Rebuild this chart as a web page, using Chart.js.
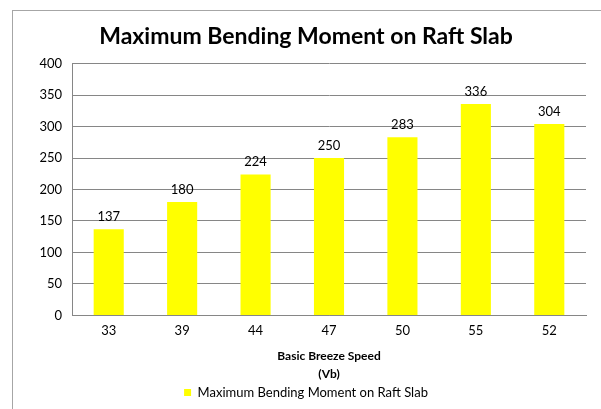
<!DOCTYPE html>
<html>
<head>
<meta charset="utf-8">
<script src="https://cdn.jsdelivr.net/npm/chart.js@4"></script>
<style>
  html, body { margin: 0; padding: 0; background: #ffffff; }
  #wrap { width: 601px; height: 409px; position: relative; }
</style>
</head>
<body>
<div id="wrap"><canvas id="chart" width="601" height="409"></canvas></div>
<script>
// Wind speed categories and resulting bending moments
const speeds = ['33', '39', '44', '47', '50', '55', '52'];
const moments = [137, 180, 224, 250, 283, 336, 304];
const seriesName = 'Maximum Bending Moment on Raft Slab';
const yTicks = [0, 50, 100, 150, 200, 250, 300, 350, 400];

const FONT = 'Lato, "Open Sans", sans-serif';

// Outer frame of the chart area
const framePlugin = {
  id: 'frame',
  beforeDraw(chart) {
    const ctx = chart.ctx;
    ctx.save();
    ctx.fillStyle = '#ffffff';
    ctx.fillRect(0, 0, chart.width, chart.height);
    ctx.strokeStyle = '#a6a6a6';
    ctx.lineWidth = 1;
    ctx.strokeRect(12.5, 10.5, chart.width + 20, chart.height + 20);
    ctx.restore();
  }
};

// Value labels above each bar
const valueLabels = {
  id: 'valueLabels',
  afterDatasetsDraw(chart) {
    const ctx = chart.ctx;
    ctx.save();
    ctx.font = '13px ' + FONT;
    ctx.fillStyle = '#000000';
    ctx.textAlign = 'center';
    ctx.textBaseline = 'bottom';
    chart.getDatasetMeta(0).data.forEach((bar, i) => {
      ctx.fillText(String(chart.data.datasets[0].data[i]), bar.x, bar.y - 6);
    });
    ctx.restore();
  }
};

new Chart(document.getElementById('chart'), {
  type: 'bar',
  data: {
    labels: speeds,
    datasets: [{
      label: seriesName,
      data: moments,
      backgroundColor: '#ffff00',
      borderWidth: 0,
      categoryPercentage: 1.0,
      barPercentage: 0.41
    }]
  },
  options: {
    responsive: false,
    animation: false,
    devicePixelRatio: 1,
    layout: { padding: { left: 26, right: 15, top: 0, bottom: 0 } },
    plugins: {
      title: {
        display: true,
        text: 'Maximum Bending Moment on Raft Slab',
        color: '#000000',
        font: { family: FONT, size: 23, weight: 'bold', lineHeight: 1.2 },
        padding: { top: 23, bottom: 13 }
      },
      legend: {
        display: true,
        position: 'bottom',
        labels: {
          color: '#000000',
          font: { family: FONT, size: 13 },
          boxWidth: 7,
          boxHeight: 7,
          padding: 3
        }
      },
      tooltip: { enabled: false }
    },
    scales: {
      x: {
        grid: { display: false, drawTicks: false },
        border: { display: true, color: '#868686', width: 1 },
        ticks: { color: '#000000', font: { family: FONT, size: 13 }, padding: 8 },
        title: {
          display: true,
          text: ['Basic Breeze Speed', '(Vb)'],
          color: '#000000',
          font: { family: FONT, size: 12, weight: 'bold', lineHeight: 1.5 },
          padding: { top: 0, bottom: 0 }
        }
      },
      y: {
        min: 0,
        max: 400,
        afterBuildTicks(scale) {
          scale.ticks = yTicks.map(v => ({ value: v }));
        },
        afterFit(scale) { scale.width = 46; },
        grid: { color: '#868686', drawTicks: false },
        border: { display: true, color: '#868686', width: 1 },
        ticks: { color: '#000000', font: { family: FONT, size: 13 }, padding: 10 }
      }
    }
  },
  plugins: [framePlugin, valueLabels]
});
</script>
</body>
</html>
